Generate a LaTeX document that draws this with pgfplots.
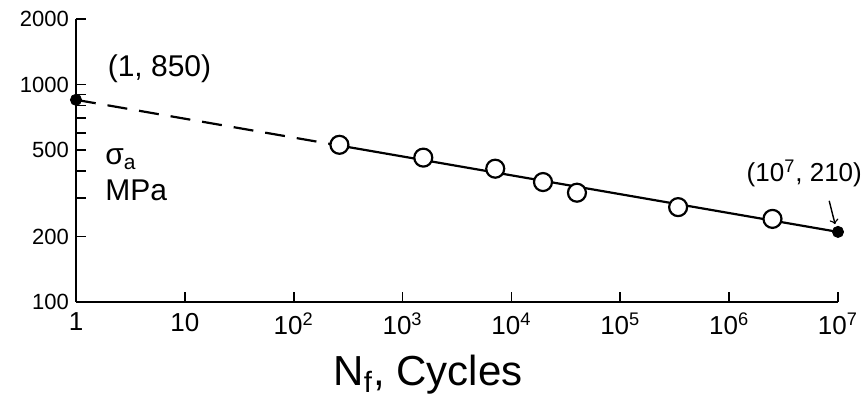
\documentclass[border=0pt]{standalone}
\usepackage{fontspec}
\setmainfont{Liberation Sans}
\usepackage{pgfplots}
\pgfplotsset{compat=1.18}
\begin{document}
\begin{tikzpicture}
\path[use as bounding box] (-38pt,-50pt) rectangle (393.5pt,151pt);
\begin{axis}[
  at={(0,0)}, anchor=south west,
  scale only axis, width=381pt, height=141.5pt,
  xmode=log, ymode=log,
  xmin=1, xmax=1e7, ymin=100, ymax=2000,
  axis lines*=left,
  axis line style={line width=1pt},
  clip=false,
  tick align=inside,
  major tick length=5pt, minor tick length=5pt,
  every tick/.style={line width=0.9pt, black},
  xtick={1,10,100,1000,10000,100000,1000000,10000000},
  xticklabels={1,10,10\textsuperscript{2},10\textsuperscript{3},10\textsuperscript{4},10\textsuperscript{5},10\textsuperscript{6},10\textsuperscript{7}},
  xminorticks=false,
  ytick={100,200,500,1000,2000},
  yticklabels={100,200,500,1000,2000},
  minor ytick={300,400,600,700,800,900},
  xticklabel style={font=\fontsize{13}{13}\selectfont, yshift=-2pt},
  yticklabel style={font=\fontsize{11}{11}\selectfont},
]
\addplot[line width=1.1pt, dash pattern=on 10pt off 6pt] coordinates {(1,850) (263,524)};
\addplot[line width=1.1pt] coordinates {(263,524) (1e7,210)};
\addplot[only marks, mark=*, mark size=4.5pt, mark options={fill=white, draw=black, line width=1.1pt}] coordinates {
(263,528) (1550,461) (7100,410) (19500,356) (40000,318) (340000,273) (2500000,241)};
\addplot[only marks, mark=*, mark size=2.8pt, black] coordinates {(1,850) (1e7,210)};
\node[font=\fontsize{15}{15}\selectfont] at (axis cs:5.85,1184) {(1, 850)};
\node[font=\fontsize{13}{13}\selectfont] at (axis cs:4.9e6,390) {(10\textsuperscript{7}, 210)};
\node[anchor=west, align=left, font=\fontsize{15}{18}\selectfont] at (axis cs:1.6,383) {σ\textsubscript{a}\\MPa};
\draw[->, line width=0.7pt] (axis cs:8.3e6,292) -- (axis cs:9.4e6,228);
\node[font=\fontsize{21}{21}\selectfont] at (rel axis cs:0.462,-0.258) {N\textsubscript{f}, Cycles};
\end{axis}
\end{tikzpicture}
\end{document}
